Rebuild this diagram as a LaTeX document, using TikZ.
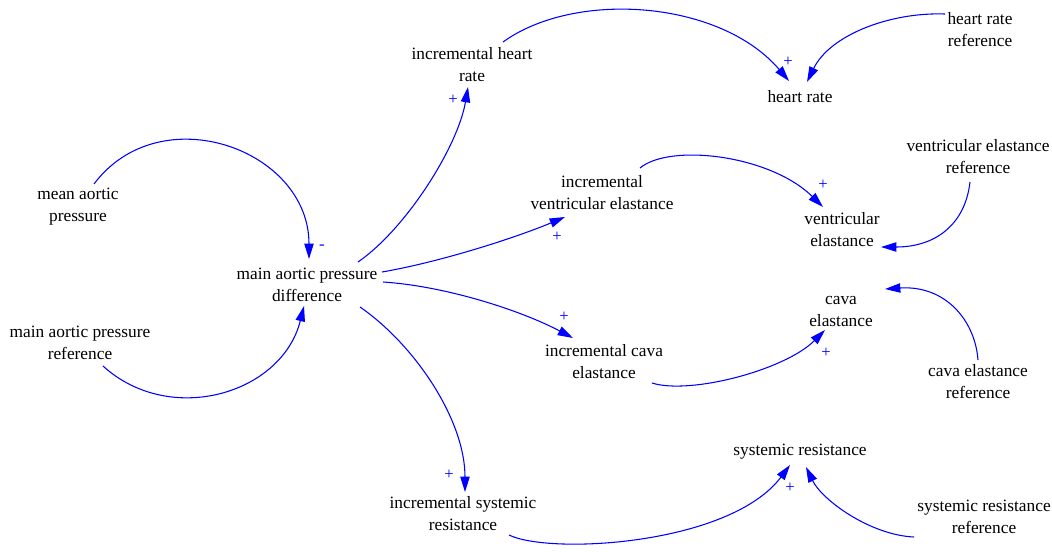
\documentclass[tikz,border=0pt]{standalone}
\usepackage{fontspec}
\setmainfont{Liberation Serif}
\usetikzlibrary{arrows.meta,calc}
\begin{document}
\begin{tikzpicture}[x=0.75pt,y=-0.75pt,
  var/.style={align=center,font=\fontsize{13}{16.5}\selectfont,inner sep=0pt},
  link/.style={draw=blue,line width=0.8pt,-{Triangle[length=11.5pt,width=7pt]}},
  pol/.style={text=blue,font=\fontsize{12.5}{12.5}\selectfont,inner sep=0pt}]
\useasboundingbox (0,0) rectangle (1052,551);

% variables
\node[var] (incheart) at (472,65)  {incremental heart\\rate};
\node[var] (hr)       at (800,97)  {heart rate};
\node[var] (hrref)    at (980,30)  {heart rate\\reference};
\node[var] (mean)     at (78,207)  {mean aortic\\pressure};
\node[var] (diff)     at (307,285) {main aortic pressure\\difference};
\node[var] (ref)      at (80,343)  {main aortic pressure\\reference};
\node[var] (incve)    at (602,193) {incremental\\ventricular elastance};
\node[var] (ve)       at (842,230) {ventricular\\elastance};
\node[var] (veref)    at (978,157) {ventricular elastance\\reference};
\node[var] (cava)     at (841,311) {cava\\elastance};
\node[var] (inccava)  at (604,362) {incremental cava\\elastance};
\node[var] (cavaref)  at (978,382) {cava elastance\\reference};
\node[var] (incsr)    at (463,514) {incremental systemic\\resistance};
\node[var] (sr)       at (800,452) {systemic resistance};
\node[var] (srref)    at (984,517) {systemic resistance\\reference};

% causal links
\draw[link] ($(mean)+(16,-23)$) .. controls (160,96) and (309,149) .. ($(diff)+(2,-26)$);
\draw[link] ($(ref)+(23,23)$) .. controls (170,427) and (282,394) .. ($(diff)+(-3,21)$);
\draw[link] ($(diff)+(51,-23)$) .. controls (407,228) and (458,146) .. ($(incheart)+(-4,22)$);
\draw[link] ($(incheart)+(31,-23)$) .. controls (575,-10) and (720,0) .. ($(hr)+(-11,-16)$);
\draw[link] ($(hrref)+(-35,-16)$) .. controls (890,12) and (830,35) .. ($(hr)+(7,-15)$);
\draw[link] ($(diff)+(75,-13)$) .. controls (440,262) and (515,238) .. ($(incve)+(-37,24)$);
\draw[link] ($(incve)+(38,-25)$) .. controls (670,143) and (770,155) .. ($(ve)+(-19,-23)$);
\draw[link] ($(veref)+(-8,25)$) .. controls (965,225) and (935,247) .. ($(ve)+(39,17)$);
\draw[link] ($(diff)+(76,-3)$) .. controls (445,286) and (520,310) .. ($(inccava)+(-31,-24)$);
\draw[link] ($(inccava)+(48,21)$) .. controls (690,395) and (785,370) .. ($(cava)+(-16,19)$);
\draw[link] ($(cavaref)+(0,-22)$) .. controls (975,320) and (945,285) .. ($(cava)+(44,-22)$);
\draw[link] ($(diff)+(53,22)$) .. controls (415,345) and (465,420) .. ($(incsr)+(2,-22)$);
\draw[link] ($(incsr)+(46,21)$) .. controls (550,555) and (730,545) .. ($(sr)+(-10,13)$);
\draw[link] ($(srref)+(-70,20)$) .. controls (870,535) and (822,500) .. ($(sr)+(6,15)$);

% link polarities
\node[pol] (p1) at (322,247) {-};
\node[pol] (p2) at (453,100) {+};
\node[pol] (p3) at (788,62)  {+};
\node[pol] (p4) at (557,237) {+};
\node[pol] (p5) at (823,185) {+};
\node[pol] (p6) at (564,317) {+};
\node[pol] (p7) at (826,353) {+};
\node[pol] (p8) at (449,475) {+};
\node[pol] (p9) at (790,488) {+};
\end{tikzpicture}
\end{document}
